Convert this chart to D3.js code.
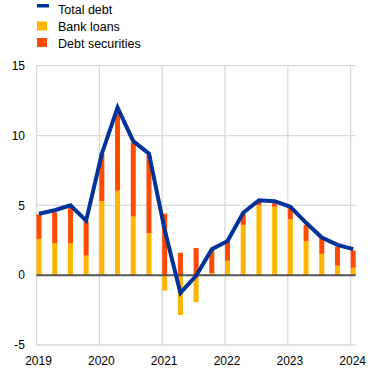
<!DOCTYPE html>
<html><head><meta charset="utf-8">
<script src="https://cdn.jsdelivr.net/npm/d3@7"></script>
<style>body{margin:0;background:#fff}svg{display:block;font-family:"Liberation Sans",Arial,sans-serif}</style>
</head><body>
<svg id="c" width="370" height="371"></svg>
<script>
const quarters = ["2019Q1","2019Q2","2019Q3","2019Q4","2020Q1","2020Q2","2020Q3","2020Q4","2021Q1","2021Q2","2021Q3","2021Q4","2022Q1","2022Q2","2022Q3","2022Q4","2023Q1","2023Q2","2023Q3","2023Q4","2024Q1"];
const bankLoans = [2.6,2.3,2.3,1.4,5.3,6.05,4.2,3.0,-1.1,-2.85,-1.93,0.15,1.03,3.6,5.0,4.9,4.0,2.45,1.53,0.68,0.53];
const debtSecurities = [1.75,2.2,2.55,2.45,3.4,5.6,5.3,5.6,4.4,1.6,1.95,1.7,1.42,0.8,0.25,0.3,0.8,1.15,1.12,1.37,1.24];
const totalDebt = [4.4,4.65,5.0,3.9,8.7,12.0,9.6,8.7,3.25,-1.27,-0.05,1.85,2.45,4.47,5.37,5.3,4.9,3.75,2.7,2.17,1.87];
const yTicks = [-5,0,5,10,15];
const xTicks = [2019,2020,2021,2022,2023,2024];
const legendLabels = ["Total debt","Bank loans","Debt securities"];
const colors = {total:"#003299", loans:"#ffb400", sec:"#ff4b00"};

const svg = d3.select("#c");
const m = {l:36.5, r:355.7, t:65.7, b:345};
const toYear = q => +q.slice(0,4) + (+q.slice(5)-1)/4;
const x = d3.scaleLinear().domain([2019,2024]).range([m.l, 350.7]);
const y = d3.scaleLinear().domain([-5,15]).range([m.b, m.t]);
const bw = 5;

// gridlines
const g = svg.append("g");
g.selectAll("line.h").data(yTicks.filter(v=>v!==0)).join("line")
  .attr("x1", m.l).attr("x2", m.r).attr("y1", d=>y(d)).attr("y2", d=>y(d))
  .attr("stroke","#d9d9d9").attr("stroke-width",1.3);
g.selectAll("line.v").data(xTicks).join("line")
  .attr("x1", d=>x(d)).attr("x2", d=>x(d)).attr("y1", m.t).attr("y2", m.b)
  .attr("stroke","#d9d9d9").attr("stroke-width",1.3);

// bars
const data = quarters.map((q,i)=>({t:toYear(q), loans:bankLoans[i], sec:debtSecurities[i], total:totalDebt[i]}));
const bars = svg.append("g");
data.forEach(d=>{
  let pos = 0, neg = 0;
  [["loans",d.loans],["sec",d.sec]].forEach(([k,v])=>{
    let y0, y1;
    if (v >= 0) { y0 = pos; y1 = pos + v; pos = y1; } else { y0 = neg; y1 = neg + v; neg = y1; }
    bars.append("rect").attr("x", x(d.t)).attr("width", bw)
      .attr("y", y(Math.max(y0,y1))).attr("height", Math.abs(y(y0)-y(y1)))
      .attr("fill", colors[k]);
  });
});

// zero line
svg.append("line").attr("x1", m.l).attr("x2", m.r).attr("y1", y(0)).attr("y2", y(0))
  .attr("stroke","#555").attr("stroke-width",2);

// total line
svg.append("path").datum(data)
  .attr("d", d3.line().x(d=>x(d.t)+bw/2).y(d=>y(d.total)))
  .attr("fill","none").attr("stroke",colors.total).attr("stroke-width",4).attr("stroke-linejoin","miter");

// axes labels
svg.append("g").selectAll("text").data(yTicks).join("text")
  .attr("x", 25).attr("y", d=>y(d)).attr("dy","0.36em").attr("text-anchor","end")
  .attr("font-size",12).attr("fill","#000").text(d=>d);
svg.append("g").selectAll("text").data(xTicks).join("text")
  .attr("x", d=>x(d)+2).attr("y", 365).attr("text-anchor","middle")
  .attr("font-size",12).attr("fill","#000").text(d=>d);

// legend
const lg = svg.append("g");
lg.append("rect").attr("x",37).attr("y",4).attr("width",12).attr("height",3.5).attr("fill",colors.total);
lg.append("rect").attr("x",37).attr("y",21.5).attr("width",10).attr("height",9).attr("fill",colors.loans);
lg.append("rect").attr("x",37).attr("y",38).attr("width",10).attr("height",9).attr("fill",colors.sec);
lg.selectAll("text").data(legendLabels).join("text")
  .attr("x",58).attr("y",(d,i)=>9.5+i*17).attr("dy","0.36em")
  .attr("font-size",12.5).attr("fill","#000").text(d=>d);
</script>
</body></html>
